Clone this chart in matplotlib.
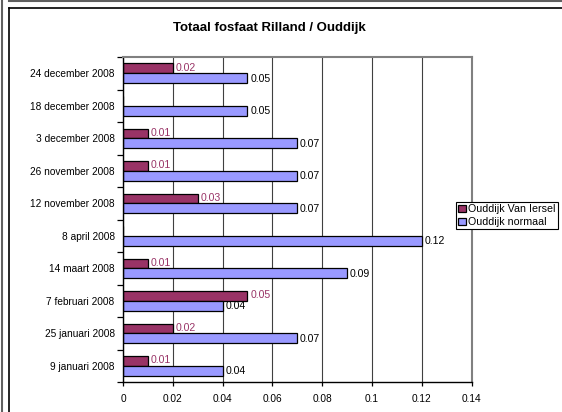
"""Totaal fosfaat Rilland / Ouddijk - horizontal grouped bar chart."""

import numpy as np
import matplotlib
matplotlib.use("Agg")
import matplotlib.pyplot as plt
from matplotlib.lines import Line2D

plt.rcParams["font.family"] = ["Liberation Sans", "DejaVu Sans"]

dates = ["9 januari 2008", "25 januari 2008", "7 februari 2008", "14 maart 2008",
         "8 april 2008", "12 november 2008", "26 november 2008",
         "3 december 2008", "18 december 2008", "24 december 2008"]
van_iersel = [0.01, 0.02, 0.05, 0.01, None, 0.03, 0.01, 0.01, None, 0.02]
normaal = [0.04, 0.07, 0.04, 0.09, 0.12, 0.07, 0.07, 0.07, 0.05, 0.05]
xticks = [0, 0.02, 0.04, 0.06, 0.08, 0.1, 0.12, 0.14]
xtick_labels = ["0", "0.02", "0.04", "0.06", "0.08", "0.1", "0.12", "0.14"]

MAROON = "#993366"
LAVENDER = "#9999FF"
FS = 7.3

fig = plt.figure(figsize=(5.62, 4.12), dpi=100)
ax = fig.add_axes([123 / 562, 1 - 382 / 412, (471.5 - 123) / 562, (382 - 57) / 412])

y = np.arange(len(dates))
h = 0.3
vi = np.array([np.nan if v is None else v for v in van_iersel])
ax.barh(y + h / 2, np.nan_to_num(vi), height=h, color=MAROON,
        edgecolor="black", linewidth=0.9, label="Ouddijk Van Iersel")
ax.barh(y - h / 2, normaal, height=h, color=LAVENDER,
        edgecolor="black", linewidth=0.9, label="Ouddijk normaal")

for i, v in enumerate(vi):
    if not np.isnan(v):
        ax.annotate(f"{v:g}", (v, i + h / 2), xytext=(2, 0.5), textcoords="offset points",
                    ha="left", va="center", fontsize=FS + 0.3, color=MAROON)
for i, v in enumerate(normaal):
    ax.annotate(f"{v:g}", (v, i - h / 2), xytext=(2, -0.5), textcoords="offset points",
                ha="left", va="center", fontsize=FS + 0.3, color="black")

ax.set_xlim(0, 0.14)
ax.set_ylim(-0.5, len(dates) - 0.5)
ax.set_xticks(xticks)
ax.set_xticklabels(xtick_labels, fontsize=FS)
ax.set_yticks(np.arange(-0.5, len(dates), 1.0))
ax.set_yticklabels([])
ax.set_yticks(y, minor=True)
ax.set_yticklabels(dates, minor=True, fontsize=FS)
ax.tick_params(axis="y", which="major", length=4, width=0.9, direction="out")
ax.tick_params(axis="y", which="minor", length=0, pad=6)
ax.tick_params(axis="x", length=3, width=0.9, direction="out", pad=6)
ax.xaxis.grid(True, color="#404040", linewidth=0.8)
ax.set_axisbelow(True)

for side in ["left", "bottom"]:
    ax.spines[side].set_color("black")
    ax.spines[side].set_linewidth(1.0)
for side in ["top", "right"]:
    ax.spines[side].set_color("#808080")
    ax.spines[side].set_linewidth(1.5)

fig.text(269 / 562, 1 - 28 / 412, "Totaal fosfaat Rilland / Ouddijk",
         ha="center", va="center", fontsize=9.5, fontweight="bold")

leg = fig.legend(loc="upper left", bbox_to_anchor=(456 / 562, 1 - 202 / 412),
                 fontsize=7.7, frameon=True, fancybox=False, framealpha=1,
                 handlelength=0.7, handleheight=0.7, handletextpad=0.25,
                 borderpad=0.2, labelspacing=0.3, borderaxespad=0)
leg.get_frame().set_edgecolor("black")
leg.get_frame().set_linewidth(0.8)

# sheet / chart borders
W, H = 562, 412
fig.add_artist(Line2D([1.5 / W, 1.5 / W], [0, 1], color="#606060", lw=1.5))
fig.add_artist(Line2D([9 / W, 1], [1 - 1 / H, 1 - 1 / H], color="#606060", lw=1.5))
fig.add_artist(Line2D([8.5 / W, 8.5 / W], [0, 1 - 7.5 / H], color="black", lw=1.2))
fig.add_artist(Line2D([8.5 / W, 1], [1 - 7.5 / H, 1 - 7.5 / H], color="black", lw=1.2))

fig.savefig("out.png", dpi=100)
